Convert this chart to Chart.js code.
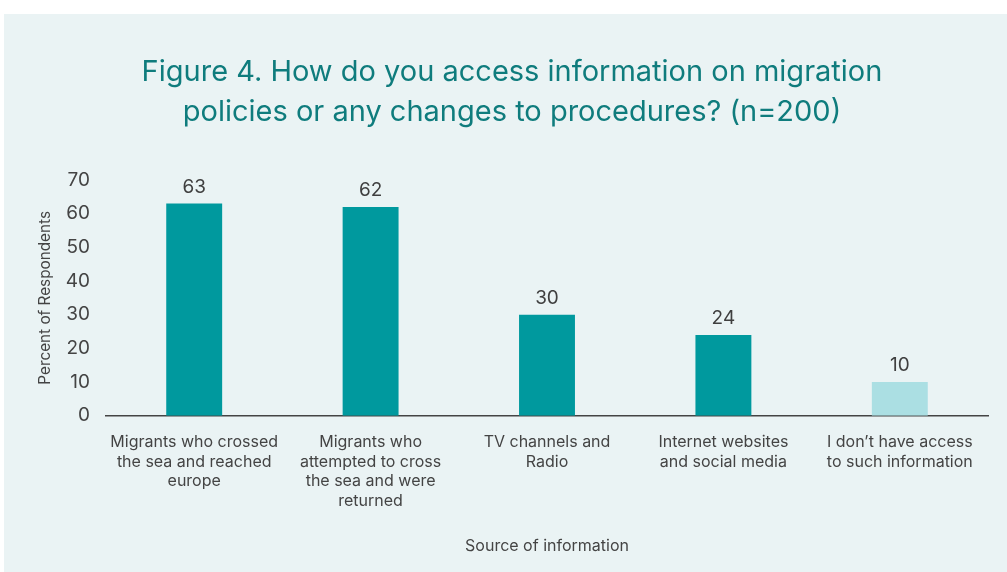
<!DOCTYPE html>
<html><head><meta charset="utf-8">
<script src="https://cdn.jsdelivr.net/npm/chart.js@4/dist/chart.umd.min.js"></script>
<style>
html,body{margin:0;padding:0;background:#fff;width:1007px;height:572px;overflow:hidden}
#panel{position:absolute;left:4px;top:14px;width:1003px;height:558px;background:#eaf3f4}
</style></head><body>
<div id="panel"><canvas id="c" width="1003" height="558"></canvas></div>
<script>
const categories = [
  ["Migrants who crossed","the sea and reached","europe"],
  ["Migrants who","attempted to cross","the sea and were","returned"],
  ["TV channels and","Radio"],
  ["Internet websites","and social media"],
  ["I don\u2019t have access","to such information"]
];
const values = [63, 62, 30, 24, 10];
const barColors = ["#00999e","#00999e","#00999e","#00999e","#abdfe3"];
const yTicks = [0,10,20,30,40,50,60,70];
const titleLines = ["Figure 4. How do you access information on migration","policies or any changes to procedures? (n=200)"];
const yTitle = "Percent of Respondents";
const xTitle = "Source of information";

const valueLabels = {
  id:'valueLabels',
  afterDatasetsDraw(chart){
    const ctx = chart.ctx;
    const meta = chart.getDatasetMeta(0);
    ctx.save();
    ctx.font = '19px Inter';
    ctx.fillStyle = '#3f3f3f';
    ctx.textAlign = 'center';
    ctx.textBaseline = 'bottom';
    meta.data.forEach((el,i)=>{
      ctx.fillText(String(values[i]), el.x, el.y - 7);
    });
    ctx.restore();
  }
};

new Chart(document.getElementById('c'), {
  type:'bar',
  data:{labels:categories, datasets:[{data:values, backgroundColor:barColors, barPercentage:0.317, categoryPercentage:1}]},
  options:{
    responsive:false, animation:false,
    layout:{padding:{left:32,right:19,top:0,bottom:16}},
    plugins:{
      legend:{display:false}, tooltip:{enabled:false},
      title:{display:true, text:titleLines, color:'#0f7c7d', font:{family:'Inter', size:29, weight:'normal', lineHeight:1.38}, padding:{top:38,bottom:48}}
    },
    scales:{
      x:{
        grid:{display:false, drawTicks:false},
        border:{display:true, color:'#444', width:1.5},
        ticks:{color:'#444', font:{family:'Inter', size:16, lineHeight:1.22}, padding:17, maxRotation:0, autoSkip:false},
        title:{display:true, text:xTitle, color:'#444', font:{family:'Inter', size:16}, padding:{top:9,bottom:0}}
      },
      y:{
        min:0, max:70,
        afterBuildTicks(s){ s.ticks = yTicks.map(v=>({value:v})); },
        grid:{display:false, drawTicks:false},
        border:{display:false},
        ticks:{color:'#444', font:{family:'Inter', size:19}, padding:16},
        title:{display:true, text:yTitle, color:'#444', font:{family:'Inter', size:15.3}, padding:{top:0,bottom:8}},
        afterFit(s){ s.width = 70; }
      }
    }
  },
  plugins:[valueLabels]
});
</script></body></html>
